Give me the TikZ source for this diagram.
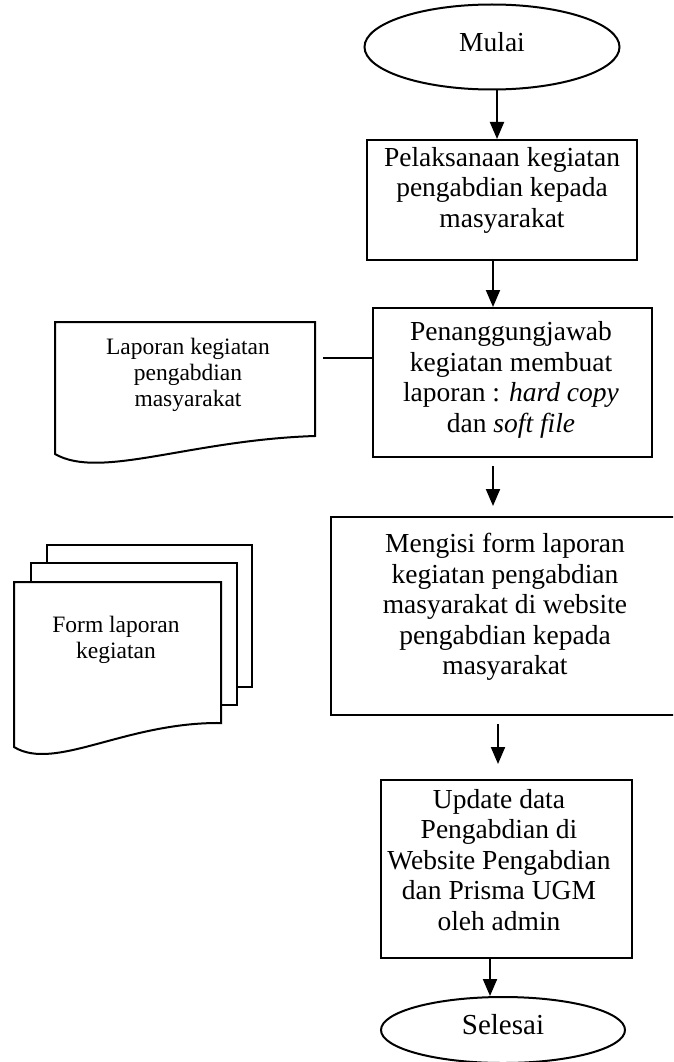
\documentclass[tikz,border=0pt]{standalone}
\usepackage{fontspec}
\setmainfont{Liberation Serif}
\usetikzlibrary{arrows.meta,shapes.geometric}
\begin{document}
\begin{tikzpicture}[x=1pt,y=-1pt,
  line/.style={line width=2pt},
  boxshape/.style={draw,line width=2pt,rectangle,inner sep=0pt},
  oval/.style={draw,line width=2pt,ellipse,inner sep=0pt},
  boxtxt/.style={align=center,inner sep=0pt,font=\fontsize{27.5}{30.5}\selectfont},
  doctxt/.style={align=center,inner sep=0pt,font=\fontsize{23.5}{26}\selectfont},
  arr/.style={line width=2pt,-{Triangle[width=14pt,length=17pt]}}]
\useasboundingbox (0,0) rectangle (673,1062);
\clip (0,0) rectangle (673,1062);

% start / end
\node[oval,minimum width=255pt,minimum height=85pt] (m) at (492,47) {};
\node[boxtxt] (mt) at (492,42) {Mulai};
\node[oval,minimum width=244pt,minimum height=66pt] (s) at (503,1030) {};
\node[boxtxt,font=\fontsize{29}{31}\selectfont] (st) at (503,1025) {Selesai};

% process boxes
\node[boxshape,minimum width=270pt,minimum height=120pt] (b1) at (502,200) {};
\node[boxtxt] (t1) at (502,190) {Pelaksanaan kegiatan\\pengabdian kepada\\masyarakat};
\node[boxshape,minimum width=279pt,minimum height=149pt] (b2) at (512.5,382.5) {};
\node[boxtxt] (t2) at (511,380) {Penanggungjawab\\kegiatan membuat\\laporan : \textit{hard copy}\\dan \textit{soft file}};
\node[boxshape,minimum width=349pt,minimum height=198pt] (b3) at (505.5,616) {};
\node[boxtxt] (t3) at (505,607) {Mengisi form laporan\\kegiatan pengabdian\\masyarakat di website\\pengabdian kepada\\masyarakat};
\node[boxshape,minimum width=251pt,minimum height=178pt] (b4) at (506.5,869) {};
\node[boxtxt] (t4) at (499,860) {Update data\\Pengabdian di\\Website Pengabdian\\dan Prisma UGM\\oleh admin};

% document: laporan
\draw[line,fill=white] (315,322) -- (55,322) -- (55,454)
  .. controls (100,480) and (190,440) .. (315,436) -- cycle;
\node[doctxt] (dt) at (188,375) {Laporan kegiatan\\pengabdian\\masyarakat};
\coordinate (dR) at (315,358);
\draw[line,shorten <=8pt] (dR) -- (b2.west |- dR);

% multi-document: form
\draw[line,fill=white] (47,545) rectangle (252,687);
\draw[line,fill=white] (31,563) rectangle (237,705);
\draw[line,fill=white] (221,582) -- (14,582) -- (14,747)
  .. controls (55,772) and (125,722) .. (221,723) -- cycle;
\node[doctxt] (ft) at (116,640) {Form laporan\\kegiatan};

% arrows
\coordinate (x1) at (497,0);
\coordinate (x2) at (493,0);
\coordinate (x3) at (493,0);
\coordinate (x4) at (498,0);
\coordinate (x5) at (490,0);
\draw[arr] (m.south -| x1) -- (b1.north -| x1);
\draw[arr] (b1.south -| x2) -- (b2.north -| x2);
\draw[arr,shorten <=8pt,shorten >=10pt] (b2.south -| x3) -- (b3.north -| x3);
\draw[arr,shorten <=8pt,shorten >=15pt] (b3.south -| x4) -- (b4.north -| x4);
\draw[arr] (b4.south -| x5) -- (s.north -| x5);
\end{tikzpicture}
\end{document}
